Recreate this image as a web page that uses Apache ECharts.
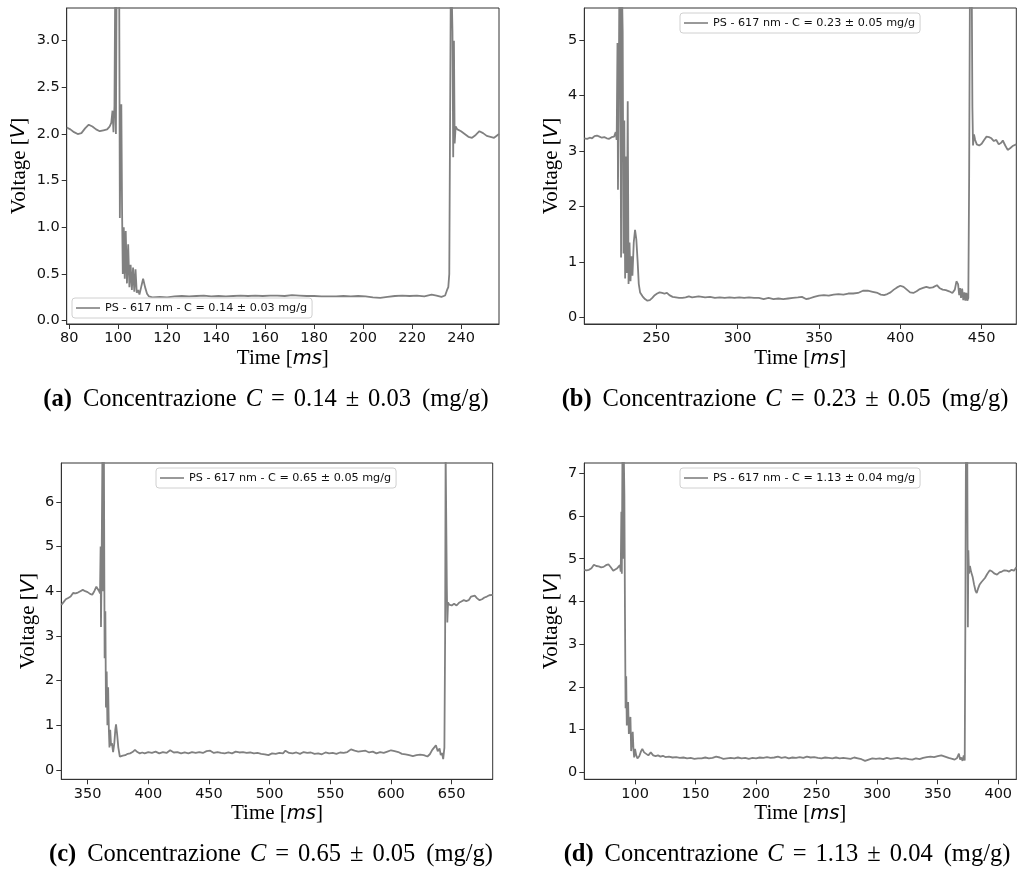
<!DOCTYPE html>
<html>
<head>
<meta charset="utf-8">
<script src="https://cdn.jsdelivr.net/npm/echarts@6/dist/echarts.min.js"></script>
<style>html,body{margin:0;padding:0;background:#fff}#c{width:1019px;height:874px}</style>
</head>
<body>
<div id="c"></div>
<script>
// ---- data (time in ms, voltage in V) ----
const seriesNames = [
  'PS - 617 nm - C = 0.14 ± 0.03 mg/g',
  'PS - 617 nm - C = 0.23 ± 0.05 mg/g',
  'PS - 617 nm - C = 0.65 ± 0.05 mg/g',
  'PS - 617 nm - C = 1.13 ± 0.04 mg/g'
];
const captionLetters = ['(a)', '(b)', '(c)', '(d)'];
const captionMeans = ['0.14', '0.23', '0.65', '1.13'];
const captionErrors = ['0.03', '0.05', '0.05', '0.04'];

const dataA = [[79,2.07],[80.5,2.05],[82,2.02],[83.5,2.0],[85,2.01],[86.5,2.06],[88,2.1],[89.5,2.08],[91,2.05],[92.5,2.03],[94,2.04],[95.5,2.05],[96.5,2.08],[97.2,2.12],[97.7,2.25],[98.1,2.02],[98.5,2.3],[98.8,3.6],[99.1,2.0],[99.4,3.8],[99.8,4.0],[100.1,3.6],[100.4,3.9],[100.7,1.1],[101.0,2.0],[101.3,2.32],[101.6,1.2],[101.9,0.5],[102.3,1.0],[102.7,0.45],[103.1,0.96],[103.6,0.4],[104.1,0.82],[104.6,0.36],[105.1,0.6],[105.6,0.33],[106.1,0.57],[106.6,0.31],[107.1,0.55],[107.6,0.3],[108.2,0.33],[108.7,0.28],[109.4,0.36],[110.2,0.45],[111.0,0.36],[111.8,0.29],[112.6,0.26],[114,0.25],[117,0.255],[120,0.25],[123,0.26],[126,0.265],[129,0.26],[132,0.265],[135,0.27],[138,0.26],[141,0.265],[144,0.26],[147,0.265],[150,0.27],[153,0.265],[156,0.27],[159,0.265],[162,0.27],[165,0.27],[168,0.265],[171,0.275],[174,0.27],[177,0.265],[180,0.265],[183,0.26],[186,0.26],[189,0.26],[192,0.265],[195,0.26],[198,0.265],[201,0.26],[204,0.25],[207,0.245],[210,0.255],[213,0.265],[216,0.27],[219,0.265],[222,0.27],[225,0.26],[228,0.28],[230,0.27],[232,0.255],[233.5,0.27],[234.3,0.33],[234.8,0.36],[235.2,0.5],[235.6,2.5],[235.9,4.0],[236.2,3.5],[236.5,3.1],[236.8,1.75],[237.1,3.0],[237.4,1.9],[237.8,2.08],[238.5,2.05],[240,2.03],[241.5,2.0],[243,1.97],[244.5,1.96],[246,1.99],[247.5,2.03],[249,2.01],[250.5,1.98],[252,1.97],[253.5,1.96],[255.5,2.0]];

const dataB = [[205.7,3.23],[207.5,3.22],[209,3.24],[210.5,3.23],[212,3.27],[213.5,3.28],[215,3.26],[216.5,3.24],[218,3.25],[219.5,3.23],[221,3.22],[222.5,3.25],[224,3.26],[225,3.34],[225.6,3.2],[226.1,4.95],[226.4,2.3],[226.8,3.6],[227.3,6.2],[227.8,5.6],[228.3,1.08],[228.8,6.0],[229.3,5.15],[229.8,1.15],[230.3,3.55],[230.8,0.7],[231.3,2.9],[231.8,0.8],[232.4,3.9],[232.9,0.6],[233.5,1.35],[234.1,0.65],[234.7,1.1],[235.3,0.75],[236.1,1.35],[236.9,1.58],[237.7,1.4],[238.5,1.0],[239.2,0.6],[240,0.45],[241.5,0.38],[243,0.33],[244.5,0.3],[246,0.31],[247.5,0.35],[249,0.4],[250.5,0.43],[252,0.45],[253.5,0.44],[255,0.43],[256.5,0.44],[258,0.4],[260,0.37],[262,0.36],[264,0.35],[266,0.35],[268,0.36],[270,0.38],[272,0.36],[274,0.37],[276,0.38],[278,0.37],[280,0.36],[283,0.37],[286,0.35],[289,0.36],[292,0.35],[295,0.36],[298,0.35],[301,0.36],[304,0.35],[307,0.36],[310,0.35],[313,0.35],[316,0.33],[319,0.35],[322,0.33],[325,0.34],[328,0.33],[331,0.34],[334,0.35],[337,0.36],[339.5,0.37],[342,0.33],[344,0.34],[347,0.37],[350,0.39],[353,0.4],[356,0.39],[359,0.41],[362,0.42],[365,0.41],[368,0.43],[371,0.43],[374,0.44],[377,0.48],[380,0.48],[383,0.46],[386,0.44],[388,0.41],[390,0.4],[392,0.42],[394,0.45],[396,0.5],[398,0.54],[400,0.57],[402,0.55],[404,0.5],[406,0.45],[408,0.44],[410,0.47],[412,0.51],[414,0.53],[416,0.55],[418,0.53],[420,0.54],[422.5,0.58],[424,0.53],[426,0.5],[428,0.49],[430,0.47],[432,0.44],[433.5,0.5],[434.5,0.65],[435.5,0.6],[436.2,0.4],[436.7,0.53],[437.3,0.35],[438,0.52],[438.7,0.31],[439.4,0.45],[440,0.3],[440.6,0.44],[441.2,0.3],[441.8,0.35],[442.3,2.5],[442.8,6.0],[443.4,6.2],[443.9,6.0],[444.3,3.8],[444.7,3.1],[445.3,3.3],[446,3.2],[447,3.12],[448.5,3.1],[450,3.13],[451.5,3.2],[453,3.26],[454.5,3.25],[456,3.23],[457.5,3.18],[459,3.2],[460.5,3.12],[462,3.15],[463,3.19],[464.5,3.1],[466,3.02],[467.5,3.05],[469,3.09],[471.3,3.12]];

const dataC = [[328.3,3.69],[330,3.75],[332,3.82],[334,3.85],[336,3.88],[338,3.96],[340,3.95],[342,3.97],[344,4.0],[346,4.03],[348,4.0],[350,3.98],[352,3.94],[353.8,3.92],[355.5,4.0],[357.2,4.1],[358.5,4.1],[359.5,4.0],[360.2,3.95],[360.7,5.0],[361.0,3.2],[361.5,4.5],[362.2,7.2],[362.8,4.0],[363.4,7.2],[364.0,2.5],[364.6,3.55],[365.1,1.4],[365.7,2.2],[366.3,1.0],[366.9,1.85],[367.5,0.9],[368.0,0.5],[368.6,0.9],[369.3,0.55],[370.0,0.6],[371.0,0.4],[372.0,0.6],[372.8,0.9],[373.4,1.02],[374.3,0.8],[375.3,0.5],[376.5,0.3],[377.5,0.28],[379,0.32],[381,0.33],[383,0.36],[385,0.37],[387,0.4],[389,0.45],[391,0.4],[393,0.37],[395,0.39],[397,0.37],[400,0.4],[403,0.38],[406,0.41],[409,0.37],[412,0.4],[415,0.38],[418,0.44],[421,0.39],[424,0.4],[427,0.37],[430,0.39],[433,0.37],[436,0.4],[439,0.38],[442,0.4],[445,0.38],[448,0.42],[451,0.43],[454,0.38],[457,0.4],[460,0.38],[463,0.37],[466,0.39],[469,0.37],[472,0.41],[475,0.39],[478,0.4],[481,0.38],[484,0.39],[487,0.37],[490,0.38],[493,0.36],[496,0.35],[499,0.33],[502,0.37],[505,0.36],[508,0.38],[511,0.37],[513,0.43],[516,0.38],[519,0.37],[522,0.39],[525,0.36],[528,0.4],[531,0.38],[534,0.39],[537,0.36],[540,0.37],[543,0.35],[546,0.39],[549,0.37],[552,0.38],[555,0.36],[558,0.39],[561,0.38],[564,0.4],[567,0.46],[570,0.43],[573,0.41],[576,0.42],[579,0.43],[582,0.39],[585,0.41],[588,0.37],[591,0.4],[594,0.38],[597,0.41],[600,0.44],[603,0.42],[606,0.4],[609,0.36],[612,0.35],[615,0.33],[618,0.31],[621,0.33],[624,0.34],[627,0.33],[630,0.3],[632,0.35],[634,0.45],[635.5,0.5],[637,0.55],[638.5,0.42],[640,0.48],[641,0.33],[642,0.38],[643,0.24],[644,0.5],[644.6,3.0],[645.0,7.2],[645.6,7.2],[646.0,4.1],[646.4,3.3],[647,3.75],[648,3.7],[650,3.68],[652,3.72],[654,3.68],[656,3.74],[658,3.77],[660,3.8],[662,3.78],[664,3.8],[666,3.88],[667.5,3.92],[669,3.9],[671,3.84],[673,3.8],[675,3.82],[677,3.86],[679,3.88],[681,3.91],[683.8,3.92]];

const dataD = [[58.1,4.74],[60,4.73],[62,4.74],[64,4.78],[66,4.86],[68,4.83],[70,4.82],[72,4.8],[74,4.81],[76,4.85],[78,4.87],[80,4.8],[82,4.72],[83.5,4.7],[85,4.77],[86.5,4.8],[87.5,4.85],[88.2,4.7],[88.7,6.1],[89.1,4.65],[89.6,7.5],[90.2,5.0],[90.7,7.5],[91.2,6.5],[91.7,3.7],[92.2,1.5],[92.7,2.25],[93.2,1.1],[93.7,1.3],[94.3,1.65],[94.9,0.9],[95.6,1.1],[96.2,1.3],[96.8,0.5],[97.4,0.7],[98.1,0.95],[98.7,0.55],[99.3,0.35],[100,0.55],[101,0.4],[102,0.33],[103.5,0.38],[105,0.5],[106,0.55],[107.5,0.47],[109,0.43],[111,0.4],[113,0.47],[115,0.4],[117,0.38],[119,0.4],[121,0.37],[123,0.39],[125,0.36],[128,0.37],[131,0.35],[134,0.36],[137,0.34],[140,0.35],[143,0.33],[146,0.34],[149,0.32],[152,0.33],[155,0.33],[158,0.35],[161,0.33],[164,0.34],[167,0.37],[170,0.35],[173,0.32],[176,0.33],[179,0.34],[182,0.33],[185,0.35],[188,0.33],[191,0.34],[194,0.32],[197,0.34],[200,0.33],[203,0.35],[206,0.34],[209,0.36],[212,0.34],[215,0.35],[218,0.37],[221,0.34],[224,0.36],[227,0.33],[230,0.35],[233,0.34],[236,0.36],[239,0.34],[242,0.37],[245,0.35],[248,0.36],[251,0.34],[254,0.33],[257,0.35],[260,0.34],[263,0.33],[266,0.35],[269,0.33],[272,0.34],[275,0.33],[278,0.32],[281,0.35],[284,0.33],[287,0.31],[290,0.27],[293,0.3],[296,0.33],[299,0.32],[302,0.33],[305,0.31],[308,0.34],[311,0.32],[314,0.33],[317,0.34],[320,0.32],[323,0.33],[326,0.31],[329,0.3],[332,0.33],[335,0.31],[338,0.34],[341,0.36],[344,0.37],[347,0.36],[350,0.38],[353,0.4],[356,0.37],[359,0.34],[362,0.32],[364,0.3],[366,0.34],[367.5,0.44],[368.5,0.3],[369.5,0.35],[370.5,0.27],[371.5,0.4],[372.3,0.28],[372.8,3.4],[373.3,7.5],[373.9,6.0],[374.4,7.5],[374.9,3.4],[375.3,5.2],[375.8,4.65],[376.6,4.83],[377.5,4.7],[378.8,4.58],[380,4.4],[381.2,4.25],[382.2,4.2],[383.3,4.3],[384.5,4.39],[386,4.45],[387.5,4.44],[389,4.55],[391,4.65],[393,4.73],[395,4.7],[397,4.65],[399,4.63],[401,4.68],[403,4.7],[405,4.73],[407,4.72],[409,4.7],[411,4.74],[413,4.72],[414.9,4.8]];

// axis ranges and tick labels
const xRanges = [[79, 255.5], [205.7, 471.3], [328.3, 683.8], [58.1, 414.9]];
const yRanges = [[-0.035, 3.35], [-0.12, 5.58], [-0.21, 6.87], [-0.16, 7.24]];
const xTicks = [
  [80, 100, 120, 140, 160, 180, 200, 220, 240],
  [250, 300, 350, 400, 450],
  [350, 400, 450, 500, 550, 600, 650],
  [100, 150, 200, 250, 300, 350, 400]
];
const yTicks = [
  [0, 0.5, 1.0, 1.5, 2.0, 2.5, 3.0],
  [0, 1, 2, 3, 4, 5],
  [0, 1, 2, 3, 4, 5, 6],
  [0, 1, 2, 3, 4, 5, 6, 7]
];
const yDecimals = [1, 0, 0, 0];

// ---- layout ----
const allData = [dataA, dataB, dataC, dataD];
const grids = [
  {left: 66.7, top: 8, width: 432.3, height: 316},
  {left: 584.3, top: 8, width: 432, height: 316},
  {left: 61.3, top: 463, width: 431.4, height: 316.3},
  {left: 584.3, top: 463, width: 432, height: 316.3}
];
const legendPos = [
  {left: 72, top: 298},
  {left: 680, top: 13},
  {left: 156, top: 468},
  {left: 680, top: 468}
];
const captionPos = [[266, 400], [785, 400], [271, 855], [787, 855]];

const SANS = "'DejaVu Sans', sans-serif";
const SERIF = "'Liberation Serif', 'DejaVu Serif', serif";
const LINE = '#808080';
const CAP = 24.5;

const chart = echarts.init(document.getElementById('c'), null, {renderer: 'canvas'});

const nameRich = {
  s: {fontFamily: SERIF, fontSize: 21, color: '#000'},
  i: {fontFamily: SANS, fontStyle: 'italic', fontSize: 19.5, color: '#000'}
};

const option = {
  animation: false,
  backgroundColor: '#fff',
  grid: grids.map(g => Object.assign({show: true, borderColor: '#333', borderWidth: 1, backgroundColor: 'transparent', containLabel: false}, g)),
  xAxis: grids.map((g, i) => ({
    type: 'value', gridIndex: i, min: xRanges[i][0], max: xRanges[i][1],
    name: '{s|Time [}{i|ms}{s|]}', nameLocation: 'middle', nameGap: 24,
    nameTextStyle: {rich: nameRich},
    axisLine: {show: true, onZero: false, lineStyle: {color: '#333', width: 1}},
    axisTick: {show: true, inside: false, length: 5, lineStyle: {color: '#333'}, customValues: xTicks[i]},
    axisLabel: {customValues: xTicks[i], fontFamily: SANS, fontSize: 14.5, color: '#111', margin: 7,
      formatter: v => String(v)},
    splitLine: {show: false}
  })),
  yAxis: grids.map((g, i) => ({
    type: 'value', gridIndex: i, min: yRanges[i][0], max: yRanges[i][1],
    name: '{s|Voltage [}{i|V}{s|]}', nameLocation: 'middle', nameGap: i === 0 ? 37 : 22,
    nameRotate: 90,
    nameTextStyle: {rich: nameRich},
    axisLine: {show: true, onZero: false, lineStyle: {color: '#333', width: 1}},
    axisTick: {show: true, inside: false, length: 5, lineStyle: {color: '#333'}, customValues: yTicks[i]},
    axisLabel: {customValues: yTicks[i], fontFamily: SANS, fontSize: 14.5, color: '#111', margin: 7,
      formatter: v => Number(v).toFixed(yDecimals[i])},
    splitLine: {show: false}
  })),
  legend: legendPos.map((p, i) => ({
    data: [{name: seriesNames[i], icon: 'rect'}], left: p.left, top: p.top, orient: 'horizontal',
    itemWidth: 24, itemHeight: 1.6, padding: [4, 5, 4, 4],
    backgroundColor: 'rgba(255,255,255,0.85)', borderColor: '#d0d0d0', borderWidth: 1, borderRadius: 3,
    itemStyle: {color: LINE},
    textStyle: {fontFamily: SANS, fontSize: 11.2, color: '#111', lineHeight: 12},
    selectedMode: false
  })),
  series: allData.map((d, i) => ({
    type: 'line', name: seriesNames[i], xAxisIndex: i, yAxisIndex: i,
    data: d, showSymbol: false, symbol: 'none', clip: true,
    lineStyle: {color: LINE, width: 1.8}, itemStyle: {color: LINE}
  })),
  graphic: captionPos.map((p, i) => ({
    type: 'text', x: p[0], y: p[1],
    style: {
      text: '{b|' + captionLetters[i] + '}{w|Concentrazione}{i|C}{o|=}{r|' + captionMeans[i] + '}{o|±}{r|' +
            captionErrors[i] + '}{u|(mg/g)}',
      align: 'center', verticalAlign: 'middle',
      rich: {
        b: {fontFamily: SERIF, fontWeight: 'bold', fontSize: CAP, fill: '#000', padding: [0, 11, 0, 0]},
        w: {fontFamily: SERIF, fontSize: CAP, fill: '#000', padding: [0, 9, 0, 0]},
        i: {fontFamily: SERIF, fontStyle: 'italic', fontSize: CAP, fill: '#000'},
        o: {fontFamily: SERIF, fontSize: CAP, fill: '#000', padding: [0, 9, 0, 9]},
        r: {fontFamily: SERIF, fontSize: CAP, fill: '#000'},
        u: {fontFamily: SERIF, fontSize: CAP, fill: '#000', padding: [0, 0, 0, 11]}
      }
    }
  }))
};
chart.setOption(option);
</script>
</body>
</html>
